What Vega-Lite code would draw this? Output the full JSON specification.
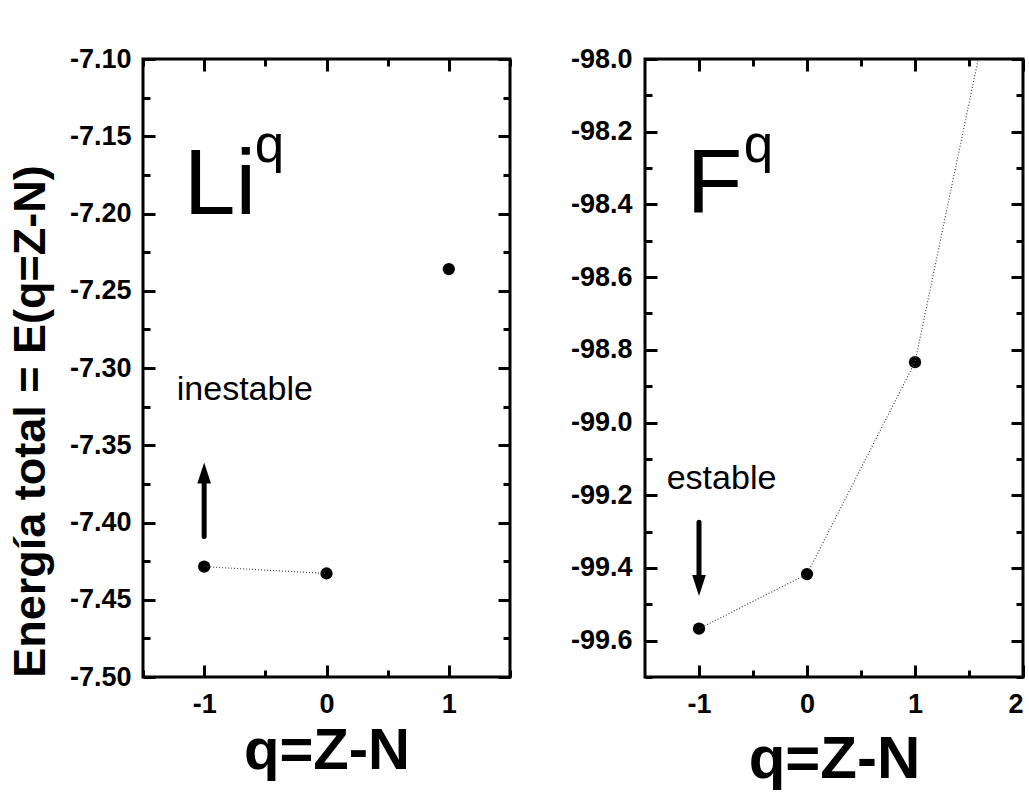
{
  "$schema": "https://vega.github.io/schema/vega-lite/v6.json",
  "padding": {"left": 6, "top": 43, "right": 0, "bottom": 0},
  "spacing": 55,
  "config": {
    "view": {"stroke": "black", "strokeWidth": 3},
    "font": "Liberation Sans",
    "axis": {
      "domain": false, "grid": false,
      "tickColor": "black", "tickWidth": 3, "tickCap": "butt",
      "labelFont": "Liberation Sans", "labelFontWeight": "bold", "labelFontSize": 27, "labelColor": "black",
      "titleFont": "Liberation Sans", "titleFontWeight": "bold", "titleColor": "black"
    }
  },
  "datasets": {
    "li_pts": [{"q": -1, "E": -7.4286}, {"q": 0, "E": -7.433}, {"q": 1, "E": -7.236}],
    "li_line": [{"q": -1, "E": -7.4286}, {"q": 0, "E": -7.433}],
    "li_shaft": [{"q": -1, "E1": -7.409, "E2": -7.3724}],
    "li_head": [{"q": -1, "E": -7.3679}],
    "li_big": [{"q": -1.167, "E": -7.2, "label": "Li"}],
    "li_sup": [{"q": -0.586, "E": -7.1665, "label": "q"}],
    "li_note": [{"q": -1.224, "E": -7.3206, "label": "inestable"}],
    "f_pts": [{"q": -1, "E": -99.567}, {"q": 0, "E": -99.417}, {"q": 1, "E": -98.834}, {"q": 2, "E": -97.41}],
    "f_shaft": [{"q": -1, "E1": -99.274, "E2": -99.4286}],
    "f_head": [{"q": -1, "E": -99.448}],
    "f_big": [{"q": -1.114, "E": -98.421, "label": "F"}],
    "f_sup": [{"q": -0.586, "E": -98.284, "label": "q"}],
    "f_note": [{"q": -1.299, "E": -99.183, "label": "estable"}]
  },
  "hconcat": [
    {
      "width": 367, "height": 618,
      "resolve": {"axis": {"x": "independent", "y": "independent"}},
      "layer": [
        {
          "data": {"name": "li_pts"},
          "mark": {"type": "circle", "size": 150, "color": "black", "opacity": 1, "clip": true},
          "encoding": {
            "x": {"field": "q", "type": "quantitative", "scale": {"domain": [-1.5, 1.5], "nice": false, "zero": false},
              "axis": {"orient": "bottom", "values": [-1, 0, 1], "tickSize": -12, "labelPadding": 26, "labelExpr": "replace(datum.label, '−', '-')",
                "title": "q=Z-N", "titleFontSize": 58, "titleY": 91, "titleBaseline": "alphabetic"}},
            "y": {"field": "E", "type": "quantitative", "scale": {"domain": [-7.5, -7.1], "nice": false, "zero": false},
              "axis": {"orient": "left", "values": [-7.5, -7.45, -7.4, -7.35, -7.3, -7.25, -7.2, -7.15, -7.1], "format": ".2f", "tickSize": -12, "labelPadding": 24,
                "labelExpr": "replace(datum.label, '−', '-')",
                "title": "Energía total = E(q=Z-N)", "titleFontSize": 45, "titleX": -99, "titleY": 362, "titleAngle": -90, "titleAlign": "center", "titleBaseline": "alphabetic"}}
          }
        },
        {
          "data": {"name": "li_line"},
          "mark": {"type": "line", "color": "#444", "strokeWidth": 1.2, "strokeDash": [1, 2], "clip": true},
          "encoding": {
            "x": {"field": "q", "type": "quantitative", "scale": {"domain": [-1.5, 1.5], "nice": false, "zero": false},
              "axis": {"orient": "top", "values": [-1, 0, 1], "tickSize": -12, "labels": false, "title": null}},
            "y": {"field": "E", "type": "quantitative", "scale": {"domain": [-7.5, -7.1], "nice": false, "zero": false},
              "axis": {"orient": "right", "values": [-7.5, -7.45, -7.4, -7.35, -7.3, -7.25, -7.2, -7.15, -7.1], "tickSize": -12, "labels": false, "title": null}}
          }
        },
        {
          "data": {"name": "li_shaft"},
          "mark": {"type": "rule", "color": "black", "strokeWidth": 5, "strokeCap": "round"},
          "encoding": {
            "x": {"field": "q", "type": "quantitative", "scale": {"domain": [-1.5, 1.5], "nice": false, "zero": false},
              "axis": {"orient": "bottom", "values": [-1.5, -0.5, 0.5, 1.5], "tickSize": -7, "labels": false, "title": null}},
            "y": {"field": "E1", "type": "quantitative", "scale": {"domain": [-7.5, -7.1], "nice": false, "zero": false},
              "axis": {"orient": "left", "values": [-7.475, -7.425, -7.375, -7.325, -7.275, -7.225, -7.175, -7.125], "tickSize": -7, "labels": false, "title": null}},
            "y2": {"field": "E2"}
          }
        },
        {
          "data": {"name": "li_head"},
          "mark": {"type": "point", "shape": "M-0.65,1L0,-1L0.65,1Z", "size": 441, "filled": true, "color": "black", "opacity": 1},
          "encoding": {
            "x": {"field": "q", "type": "quantitative", "scale": {"domain": [-1.5, 1.5], "nice": false, "zero": false},
              "axis": {"orient": "top", "values": [-1.5, -0.5, 0.5, 1.5], "tickSize": -7, "labels": false, "title": null}},
            "y": {"field": "E", "type": "quantitative", "scale": {"domain": [-7.5, -7.1], "nice": false, "zero": false},
              "axis": {"orient": "right", "values": [-7.475, -7.425, -7.375, -7.325, -7.275, -7.225, -7.175, -7.125], "tickSize": -7, "labels": false, "title": null}}
          }
        },
        {
          "data": {"name": "li_big"},
          "mark": {"type": "text", "fontSize": 93, "font": "Liberation Sans", "align": "left", "baseline": "alphabetic", "color": "black"},
          "encoding": {
            "x": {"field": "q", "type": "quantitative", "scale": {"domain": [-1.5, 1.5], "nice": false, "zero": false}, "axis": null},
            "y": {"field": "E", "type": "quantitative", "scale": {"domain": [-7.5, -7.1], "nice": false, "zero": false}, "axis": null},
            "text": {"field": "label"}
          }
        },
        {
          "data": {"name": "li_sup"},
          "mark": {"type": "text", "fontSize": 53, "font": "Liberation Sans", "align": "left", "baseline": "alphabetic", "color": "black"},
          "encoding": {
            "x": {"field": "q", "type": "quantitative", "scale": {"domain": [-1.5, 1.5], "nice": false, "zero": false}, "axis": null},
            "y": {"field": "E", "type": "quantitative", "scale": {"domain": [-7.5, -7.1], "nice": false, "zero": false}, "axis": null},
            "text": {"field": "label"}
          }
        },
        {
          "data": {"name": "li_note"},
          "mark": {"type": "text", "fontSize": 34, "font": "Liberation Sans", "align": "left", "baseline": "alphabetic", "color": "black"},
          "encoding": {
            "x": {"field": "q", "type": "quantitative", "scale": {"domain": [-1.5, 1.5], "nice": false, "zero": false}, "axis": null},
            "y": {"field": "E", "type": "quantitative", "scale": {"domain": [-7.5, -7.1], "nice": false, "zero": false}, "axis": null},
            "text": {"field": "label"}
          }
        }
      ]
    },
    {
      "width": 378, "height": 618,
      "resolve": {"axis": {"x": "independent", "y": "independent"}},
      "layer": [
        {
          "data": {"name": "f_pts"},
          "mark": {"type": "circle", "size": 150, "color": "black", "opacity": 1, "clip": true},
          "encoding": {
            "x": {"field": "q", "type": "quantitative", "scale": {"domain": [-1.5, 2], "nice": false, "zero": false},
              "axis": {"orient": "bottom", "values": [-1, 0, 1, 2], "tickSize": -12, "labelPadding": 26, "labelExpr": "replace(datum.label, '−', '-')",
                "title": "q=Z-N", "titleFontSize": 60, "titleY": 100, "titleBaseline": "alphabetic"}},
            "y": {"field": "E", "type": "quantitative", "scale": {"domain": [-99.7, -98.0], "nice": false, "zero": false},
              "axis": {"orient": "left", "values": [-99.6, -99.4, -99.2, -99.0, -98.8, -98.6, -98.4, -98.2, -98.0], "format": ".1f", "tickSize": -12, "labelPadding": 25,
                "labelExpr": "replace(datum.label, '−', '-')", "title": null}}
          }
        },
        {
          "data": {"name": "f_pts"},
          "mark": {"type": "line", "color": "#444", "strokeWidth": 1.2, "strokeDash": [1, 2], "clip": true},
          "encoding": {
            "x": {"field": "q", "type": "quantitative", "scale": {"domain": [-1.5, 2], "nice": false, "zero": false},
              "axis": {"orient": "top", "values": [-1, 0, 1, 2], "tickSize": -12, "labels": false, "title": null}},
            "y": {"field": "E", "type": "quantitative", "scale": {"domain": [-99.7, -98.0], "nice": false, "zero": false},
              "axis": {"orient": "right", "values": [-99.6, -99.4, -99.2, -99.0, -98.8, -98.6, -98.4, -98.2, -98.0], "tickSize": -12, "labels": false, "title": null}}
          }
        },
        {
          "data": {"name": "f_shaft"},
          "mark": {"type": "rule", "color": "black", "strokeWidth": 5, "strokeCap": "round"},
          "encoding": {
            "x": {"field": "q", "type": "quantitative", "scale": {"domain": [-1.5, 2], "nice": false, "zero": false},
              "axis": {"orient": "bottom", "values": [-0.5, 0.5, 1.5], "tickSize": -7, "labels": false, "title": null}},
            "y": {"field": "E1", "type": "quantitative", "scale": {"domain": [-99.7, -98.0], "nice": false, "zero": false},
              "axis": {"orient": "left", "values": [-99.7, -99.5, -99.3, -99.1, -98.9, -98.7, -98.5, -98.3, -98.1], "tickSize": -7, "labels": false, "title": null}},
            "y2": {"field": "E2"}
          }
        },
        {
          "data": {"name": "f_head"},
          "mark": {"type": "point", "shape": "M-0.65,-1L0,1L0.65,-1Z", "size": 441, "filled": true, "color": "black", "opacity": 1},
          "encoding": {
            "x": {"field": "q", "type": "quantitative", "scale": {"domain": [-1.5, 2], "nice": false, "zero": false},
              "axis": {"orient": "top", "values": [-0.5, 0.5, 1.5], "tickSize": -7, "labels": false, "title": null}},
            "y": {"field": "E", "type": "quantitative", "scale": {"domain": [-99.7, -98.0], "nice": false, "zero": false},
              "axis": {"orient": "right", "values": [-99.7, -99.5, -99.3, -99.1, -98.9, -98.7, -98.5, -98.3, -98.1], "tickSize": -7, "labels": false, "title": null}}
          }
        },
        {
          "data": {"name": "f_big"},
          "mark": {"type": "text", "fontSize": 91, "font": "Liberation Sans", "align": "left", "baseline": "alphabetic", "color": "black"},
          "encoding": {
            "x": {"field": "q", "type": "quantitative", "scale": {"domain": [-1.5, 2], "nice": false, "zero": false}, "axis": null},
            "y": {"field": "E", "type": "quantitative", "scale": {"domain": [-99.7, -98.0], "nice": false, "zero": false}, "axis": null},
            "text": {"field": "label"}
          }
        },
        {
          "data": {"name": "f_sup"},
          "mark": {"type": "text", "fontSize": 53, "font": "Liberation Sans", "align": "left", "baseline": "alphabetic", "color": "black"},
          "encoding": {
            "x": {"field": "q", "type": "quantitative", "scale": {"domain": [-1.5, 2], "nice": false, "zero": false}, "axis": null},
            "y": {"field": "E", "type": "quantitative", "scale": {"domain": [-99.7, -98.0], "nice": false, "zero": false}, "axis": null},
            "text": {"field": "label"}
          }
        },
        {
          "data": {"name": "f_note"},
          "mark": {"type": "text", "fontSize": 34, "font": "Liberation Sans", "align": "left", "baseline": "alphabetic", "color": "black"},
          "encoding": {
            "x": {"field": "q", "type": "quantitative", "scale": {"domain": [-1.5, 2], "nice": false, "zero": false}, "axis": null},
            "y": {"field": "E", "type": "quantitative", "scale": {"domain": [-99.7, -98.0], "nice": false, "zero": false}, "axis": null},
            "text": {"field": "label"}
          }
        }
      ]
    }
  ]
}
